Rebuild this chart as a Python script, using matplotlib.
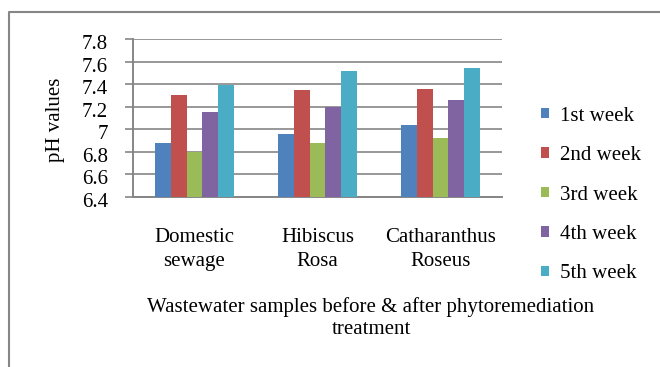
import matplotlib
matplotlib.use("Agg")
import matplotlib.pyplot as plt
import matplotlib.transforms as mtransforms
from matplotlib.lines import Line2D
import numpy as np

categories = ["Domestic\nsewage", "Hibiscus\nRosa", "Catharanthus\nRoseus"]
series_names = ["1st week", "2nd week", "3rd week", "4th week", "5th week"]
week1 = [6.88, 6.96, 7.04]
week2 = [7.30, 7.35, 7.36]
week3 = [6.80, 6.88, 6.92]
week4 = [7.15, 7.20, 7.26]
week5 = [7.39, 7.52, 7.54]
yticks = [6.4, 6.6, 6.8, 7.0, 7.2, 7.4, 7.6, 7.8]
ytick_labels = ["6.4", "6.6", "6.8", "7", "7.2", "7.4", "7.6", "7.8"]
colors = ["#4F81BD", "#C0504D", "#9BBB59", "#8064A2", "#4BACC6"]

plt.rcParams['font.family'] = ['Liberation Serif', 'DejaVu Serif']
FS = 15
W, H = 660, 367
fig = plt.figure(figsize=(W / 100, H / 100), dpi=100)
ax = fig.add_axes([133 / W, 1 - 197 / H, 369 / W, 158 / H])

x = np.arange(len(categories))
bw = 0.127
series = [week1, week2, week3, week4, week5]
handles = []
for i, (vals, name, c) in enumerate(zip(series, series_names, colors)):
    b = ax.bar(x + (i - 2) * bw, np.array(vals) - 6.4, bottom=6.4, width=bw,
               color=c, label=name, zorder=3, linewidth=0)
    handles.append(b)

ax.set_xlim(-0.5, 2.5)
ax.set_ylim(6.4, 7.8)
ax.set_yticks(yticks)
ax.set_yticklabels(ytick_labels, fontsize=FS)
ax.set_xticks(x)
ax.set_xticklabels(categories, fontsize=FS, linespacing=1.35)
ax.tick_params(axis='x', length=0, pad=22.5)
ax.tick_params(axis='y', length=6, width=1.2, color='#868686', pad=12)
ax.grid(axis='y', color='#868686', linewidth=1.2, zorder=0)
ax.set_axisbelow(True)
for s in ['top', 'right']:
    ax.spines[s].set_visible(False)
for s in ['left', 'bottom']:
    ax.spines[s].set_color('#868686')
    ax.spines[s].set_linewidth(1.4)

offset = mtransforms.ScaledTranslation(0, -3 / 100, fig.dpi_scale_trans)
for lbl in ax.get_yticklabels():
    lbl.set_transform(lbl.get_transform() + offset)

ax.text(-0.211, 0.487, "pH values", transform=ax.transAxes, rotation=90,
        ha='center', va='center', fontsize=FS)

fig.text(371 / W, 1 - 318 / H,
         "Wastewater samples before & after phytoremediation\ntreatment",
         ha='center', va='center', fontsize=FS, linespacing=1.22,
         multialignment='center')

leg = ax.legend(handles=handles, loc='center left',
                bbox_to_anchor=(541 / W, 1 - 195 / H),
                bbox_transform=fig.transFigure, frameon=False, fontsize=FS,
                handlelength=0.4, handleheight=0.4, handletextpad=0.5,
                labelspacing=0.98, borderpad=0, borderaxespad=0)

fig.add_artist(Line2D([8.5 / W, 8.5 / W, 1], [0, 1 - 11.5 / H, 1 - 11.5 / H],
                      transform=fig.transFigure, color='#868686', linewidth=1.5))

fig.savefig("out.png", dpi=100)
